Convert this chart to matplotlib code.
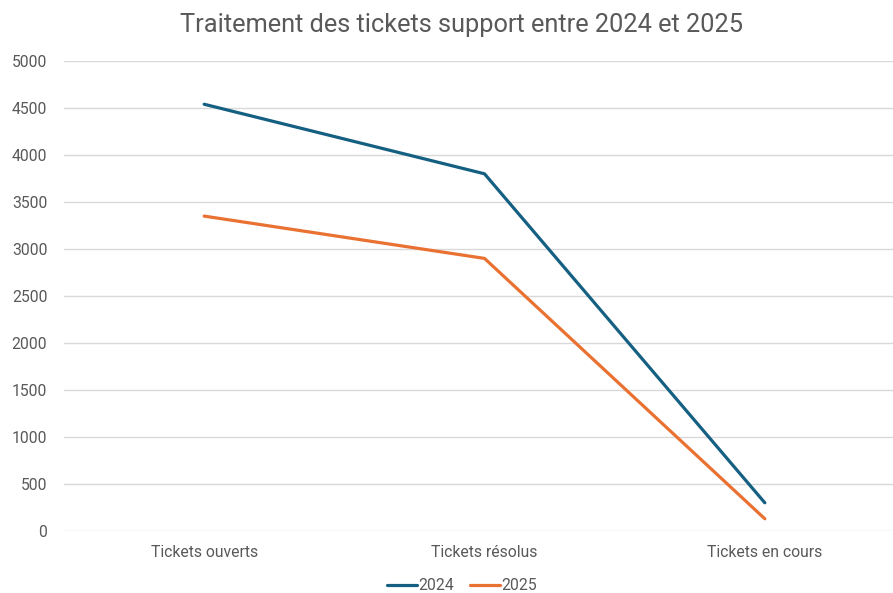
import matplotlib
matplotlib.use("Agg")
import matplotlib.pyplot as plt

categories = ["Tickets ouverts", "Tickets résolus", "Tickets en cours"]
series_names = ["2024", "2025"]
values_2024 = [4540, 3800, 300]
values_2025 = [3350, 2900, 130]
yticks = [0, 500, 1000, 1500, 2000, 2500, 3000, 3500, 4000, 4500, 5000]

plt.rcParams['font.family'] = ['Roboto', 'DejaVu Sans']
W, H = 893, 593
fig = plt.figure(figsize=(W/100, H/100), dpi=100)
ax = fig.add_axes([64/W, 1-531/H, 1-64/W, (531-61)/H])

c2024 = "#156082"
c2025 = "#E97132"
x = list(range(len(categories)))
ax.plot(x, values_2024, color=c2024, lw=2.3, label=series_names[0], solid_capstyle='round')
ax.plot(x, values_2025, color=c2025, lw=2.3, label=series_names[1], solid_capstyle='round')

ax.set_xlim(-0.5, 2.5 - 12/280.5)
ax.set_ylim(0, 5000)
ax.set_yticks(yticks)
ax.set_yticklabels([str(v) for v in yticks])
ax.set_xticks(x)
ax.set_xticklabels(categories)
ax.grid(axis='y', color='#D9D9D9', lw=1)
ax.set_axisbelow(True)
for s in ax.spines.values():
    s.set_visible(False)
ax.tick_params(axis='both', length=0, colors='#595959', labelsize=11.3)
ax.tick_params(axis='y', pad=12)
ax.tick_params(axis='x', pad=10)

fig.text(461/W, 1-25/H, "Traitement des tickets support entre 2024 et 2025",
         ha='center', va='center', fontsize=18.3, color='#595959')

leg = fig.legend(loc='center', bbox_to_anchor=(462/W, 1-586/H), ncol=2, frameon=False,
                 fontsize=11.3, handlelength=1.9, handletextpad=0.1, columnspacing=1.0)
for t in leg.get_texts():
    t.set_color('#595959')

fig.savefig("out.png", dpi=100)
